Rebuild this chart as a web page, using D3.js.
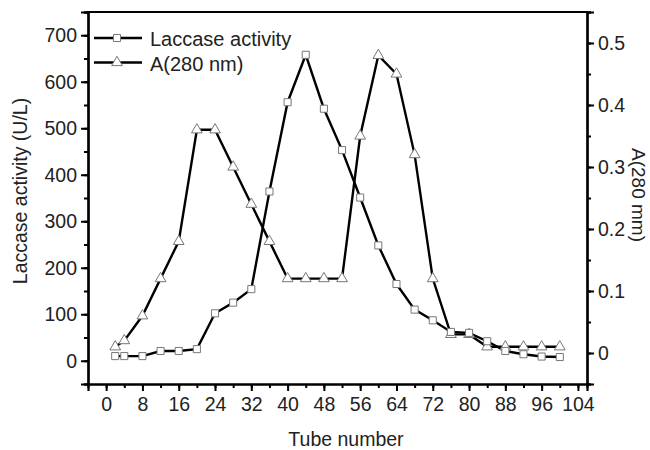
<!DOCTYPE html>
<html><head><meta charset="utf-8">
<script src="https://cdn.jsdelivr.net/npm/d3@7"></script>
<style>body{margin:0;background:#fff}svg{display:block}text{font-family:"Liberation Sans",Arial,sans-serif;fill:#222}</style>
</head><body><div id="chart"></div>
<script>
const tubes = [2,4,8,12,16,20,24,28,32,36,40,44,48,52,56,60,64,68,72,76,80,84,88,92,96,100];
const laccase = [10,10,10,21,21,25,102,125,154,364,556,658,542,453,351,248,165,110,87,62,60,42,21,14,9,8];
const a280 = [0.01,0.02,0.06,0.12,0.18,0.36,0.36,0.30,0.24,0.18,0.12,0.12,0.12,0.12,0.35,0.48,0.45,0.32,0.12,0.03,0.03,0.01,0.01,0.01,0.01,0.01];
const xTicks = d3.range(0,105,8);
const leftTicks = d3.range(0,701,100);
const rightTicks = [0,0.1,0.2,0.3,0.4,0.5];
const seriesNames = ["Laccase activity","A(280 nm)"];

const W=650,H=450, L=88,R=587,T=12,B=384;
const svg=d3.select("#chart").append("svg").attr("width",W).attr("height",H);
const x=d3.scaleLinear().domain([-4,106]).range([L,R]);
const yL=d3.scaleLinear().domain([-50,750]).range([B,T]);
const yR=d3.scaleLinear().domain([-0.05,0.55]).range([B,T]);
const FS="19.5px";

function styleAxis(g){
  g.selectAll("path").attr("stroke","#000").attr("stroke-width",2.2);
  g.selectAll("line").attr("stroke","#000").attr("stroke-width",2);
  g.selectAll("text").style("font-size",FS).attr("fill","#222");
}
// minor ticks
svg.append("g").attr("transform",`translate(0,${B})`)
  .call(d3.axisBottom(x).tickValues(d3.range(0,105,4)).tickSize(4).tickFormat(""))
  .call(styleAxis);
svg.append("g").attr("transform",`translate(${L},0)`)
  .call(d3.axisLeft(yL).tickValues(d3.range(-50,751,50)).tickSize(4).tickFormat(""))
  .call(styleAxis);
svg.append("g").attr("transform",`translate(${R},0)`)
  .call(d3.axisRight(yR).tickValues(d3.range(-0.05,0.56,0.05)).tickSize(4).tickFormat(""))
  .call(styleAxis);
// major
svg.append("g").attr("transform",`translate(0,${B})`)
  .call(d3.axisBottom(x).tickValues(xTicks).tickSize(7).tickPadding(6).tickFormat(d3.format("d")))
  .call(styleAxis);
svg.append("g").attr("transform",`translate(${L},0)`)
  .call(d3.axisLeft(yL).tickValues(leftTicks).tickSize(7).tickPadding(4).tickFormat(d3.format("d")))
  .call(styleAxis);
svg.append("g").attr("transform",`translate(${R},0)`)
  .call(d3.axisRight(yR).tickValues(rightTicks).tickSize(7).tickPadding(4).tickFormat(d=>d===0?"0":d3.format(".1f")(d)))
  .call(styleAxis);
// top border
svg.append("line").attr("x1",L-1).attr("x2",R+1).attr("y1",T).attr("y2",T).attr("stroke","#000").attr("stroke-width",2.2);

// axis titles
svg.append("text").attr("x",346).attr("y",446).attr("text-anchor","middle").style("font-size",FS).text("Tube number");
svg.append("text").attr("transform",`translate(27,191) rotate(-90)`).attr("text-anchor","middle").style("font-size",FS).text("Laccase activity (U/L)");
svg.append("text").attr("transform",`translate(632,195) rotate(90)`).attr("text-anchor","middle").style("font-size","19px").text("A(280 mm)");

const sq=d3.symbol().type(d3.symbolSquare).size(50);
const tri=d3.symbol().type(d3.symbolTriangle).size(50);
const mStroke="#777";

const lineL=d3.line().x((d,i)=>x(tubes[i])).y(d=>yL(d));
const lineR=d3.line().x((d,i)=>x(tubes[i])).y(d=>yR(d));
svg.append("path").attr("d",lineR(a280)).attr("fill","none").attr("stroke","#000").attr("stroke-width",2.4);
svg.append("path").attr("d",lineL(laccase)).attr("fill","none").attr("stroke","#000").attr("stroke-width",2.4);
svg.append("g").selectAll("path").data(a280).join("path")
  .attr("d",tri).attr("transform",(d,i)=>`translate(${x(tubes[i])},${yR(d)})`)
  .attr("fill","#fff").attr("stroke",mStroke).attr("stroke-width",1);
svg.append("g").selectAll("path").data(laccase).join("path")
  .attr("d",sq).attr("transform",(d,i)=>`translate(${x(tubes[i])},${yL(d)})`)
  .attr("fill","#fff").attr("stroke",mStroke).attr("stroke-width",1);

// legend
const lg=svg.append("g");
seriesNames.forEach((n,i)=>{
  const yy=38+i*24.5;
  lg.append("line").attr("x1",94).attr("x2",142).attr("y1",yy).attr("y2",yy).attr("stroke","#000").attr("stroke-width",2.4);
  lg.append("path").attr("d",i===0?sq:tri).attr("transform",`translate(117,${yy})`).attr("fill","#fff").attr("stroke",mStroke);
  lg.append("text").attr("x",150).attr("y",yy+8).style("font-size","20px").text(n);
});
</script></body></html>
